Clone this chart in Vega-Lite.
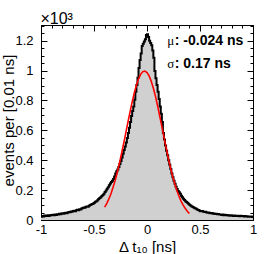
{
  "$schema": "https://vega.github.io/schema/vega-lite/v6.json",
  "width": 212,
  "height": 195,
  "autosize": {"type": "none"},
  "padding": {"left": 41, "top": 25, "right": 13, "bottom": 34},
  "background": "white",
  "config": {
    "view": {"stroke": "black", "strokeWidth": 1},
    "axis": {
      "domainColor": "black", "tickColor": "black", "labelColor": "black", "titleColor": "black",
      "labelFont": "Liberation Sans", "titleFont": "Liberation Sans", "labelFontSize": 13,
      "titleFontSize": 15, "titleFontWeight": "normal", "grid": false, "labelFlush": false,
      "labelOverlap": false, "tickWidth": 1, "domainWidth": 1
    }
  },
  "datasets": {
    "hist": [
      {"t":-1.00,"n":0.022},{"t":-0.99,"n":0.027},{"t":-0.98,"n":0.024},{"t":-0.97,"n":0.030},{"t":-0.96,"n":0.026},
      {"t":-0.95,"n":0.028},{"t":-0.94,"n":0.031},{"t":-0.93,"n":0.027},{"t":-0.92,"n":0.030},{"t":-0.91,"n":0.033},
      {"t":-0.90,"n":0.031},{"t":-0.89,"n":0.035},{"t":-0.88,"n":0.032},{"t":-0.87,"n":0.036},{"t":-0.86,"n":0.034},
      {"t":-0.85,"n":0.038},{"t":-0.84,"n":0.036},{"t":-0.83,"n":0.041},{"t":-0.82,"n":0.039},{"t":-0.81,"n":0.043},
      {"t":-0.80,"n":0.045},{"t":-0.79,"n":0.042},{"t":-0.78,"n":0.047},{"t":-0.77,"n":0.049},{"t":-0.76,"n":0.046},
      {"t":-0.75,"n":0.051},{"t":-0.74,"n":0.054},{"t":-0.73,"n":0.052},{"t":-0.72,"n":0.057},{"t":-0.71,"n":0.055},
      {"t":-0.70,"n":0.060},{"t":-0.69,"n":0.062},{"t":-0.68,"n":0.059},{"t":-0.67,"n":0.065},{"t":-0.66,"n":0.068},
      {"t":-0.65,"n":0.066},{"t":-0.64,"n":0.072},{"t":-0.63,"n":0.070},{"t":-0.62,"n":0.077},{"t":-0.61,"n":0.080},
      {"t":-0.60,"n":0.084},{"t":-0.59,"n":0.082},{"t":-0.58,"n":0.088},{"t":-0.57,"n":0.091},{"t":-0.56,"n":0.089},
      {"t":-0.55,"n":0.096},{"t":-0.54,"n":0.100},{"t":-0.53,"n":0.103},{"t":-0.52,"n":0.107},{"t":-0.51,"n":0.111},
      {"t":-0.50,"n":0.116},{"t":-0.49,"n":0.122},{"t":-0.48,"n":0.126},{"t":-0.47,"n":0.133},{"t":-0.46,"n":0.140},
      {"t":-0.45,"n":0.148},{"t":-0.44,"n":0.153},{"t":-0.43,"n":0.161},{"t":-0.42,"n":0.168},{"t":-0.41,"n":0.176},
      {"t":-0.40,"n":0.187},{"t":-0.39,"n":0.197},{"t":-0.38,"n":0.209},{"t":-0.37,"n":0.219},{"t":-0.36,"n":0.232},
      {"t":-0.35,"n":0.245},{"t":-0.34,"n":0.255},{"t":-0.33,"n":0.262},{"t":-0.32,"n":0.274},{"t":-0.31,"n":0.291},
      {"t":-0.30,"n":0.311},{"t":-0.29,"n":0.326},{"t":-0.28,"n":0.338},{"t":-0.27,"n":0.355},{"t":-0.26,"n":0.375},
      {"t":-0.25,"n":0.395},{"t":-0.24,"n":0.419},{"t":-0.23,"n":0.444},{"t":-0.22,"n":0.469},{"t":-0.21,"n":0.492},
      {"t":-0.20,"n":0.518},{"t":-0.19,"n":0.548},{"t":-0.18,"n":0.582},{"t":-0.17,"n":0.617},{"t":-0.16,"n":0.656},
      {"t":-0.15,"n":0.696},{"t":-0.14,"n":0.730},{"t":-0.13,"n":0.760},{"t":-0.12,"n":0.804},{"t":-0.11,"n":0.859},
      {"t":-0.10,"n":0.903},{"t":-0.09,"n":0.952},{"t":-0.08,"n":1.017},{"t":-0.07,"n":1.071},{"t":-0.06,"n":1.115},
      {"t":-0.05,"n":1.165},{"t":-0.04,"n":1.180},{"t":-0.03,"n":1.194},{"t":-0.02,"n":1.209},{"t":-0.01,"n":1.238},
      {"t":0.00,"n":1.243},{"t":0.01,"n":1.224},{"t":0.02,"n":1.199},{"t":0.03,"n":1.184},{"t":0.04,"n":1.170},
      {"t":0.05,"n":1.135},{"t":0.06,"n":1.086},{"t":0.07,"n":0.997},{"t":0.08,"n":0.948},{"t":0.09,"n":0.903},
      {"t":0.10,"n":0.859},{"t":0.11,"n":0.809},{"t":0.12,"n":0.760},{"t":0.13,"n":0.711},{"t":0.14,"n":0.656},
      {"t":0.15,"n":0.582},{"t":0.16,"n":0.538},{"t":0.17,"n":0.498},{"t":0.18,"n":0.464},{"t":0.19,"n":0.434},
      {"t":0.20,"n":0.400},{"t":0.21,"n":0.370},{"t":0.22,"n":0.341},{"t":0.23,"n":0.311},{"t":0.24,"n":0.286},
      {"t":0.25,"n":0.262},{"t":0.26,"n":0.242},{"t":0.27,"n":0.222},{"t":0.28,"n":0.207},{"t":0.29,"n":0.194},
      {"t":0.30,"n":0.186},{"t":0.31,"n":0.176},{"t":0.32,"n":0.163},{"t":0.33,"n":0.153},{"t":0.34,"n":0.143},
      {"t":0.35,"n":0.134},{"t":0.36,"n":0.126},{"t":0.37,"n":0.120},{"t":0.38,"n":0.113},{"t":0.39,"n":0.107},
      {"t":0.40,"n":0.101},{"t":0.41,"n":0.096},{"t":0.42,"n":0.091},{"t":0.43,"n":0.087},{"t":0.44,"n":0.082},
      {"t":0.45,"n":0.078},{"t":0.46,"n":0.075},{"t":0.47,"n":0.071},{"t":0.48,"n":0.067},{"t":0.49,"n":0.063},
      {"t":0.50,"n":0.059},{"t":0.51,"n":0.058},{"t":0.52,"n":0.061},{"t":0.53,"n":0.055},{"t":0.54,"n":0.053},
      {"t":0.55,"n":0.056},{"t":0.56,"n":0.050},{"t":0.57,"n":0.048},{"t":0.58,"n":0.051},{"t":0.59,"n":0.046},
      {"t":0.60,"n":0.045},{"t":0.61,"n":0.047},{"t":0.62,"n":0.042},{"t":0.63,"n":0.044},{"t":0.64,"n":0.040},
      {"t":0.65,"n":0.041},{"t":0.66,"n":0.038},{"t":0.67,"n":0.040},{"t":0.68,"n":0.036},{"t":0.69,"n":0.037},
      {"t":0.70,"n":0.034},{"t":0.71,"n":0.036},{"t":0.72,"n":0.032},{"t":0.73,"n":0.035},{"t":0.74,"n":0.031},
      {"t":0.75,"n":0.033},{"t":0.76,"n":0.030},{"t":0.77,"n":0.032},{"t":0.78,"n":0.029},{"t":0.79,"n":0.031},
      {"t":0.80,"n":0.030},{"t":0.81,"n":0.027},{"t":0.82,"n":0.030},{"t":0.83,"n":0.028},{"t":0.84,"n":0.026},
      {"t":0.85,"n":0.029},{"t":0.86,"n":0.027},{"t":0.87,"n":0.025},{"t":0.88,"n":0.028},{"t":0.89,"n":0.026},
      {"t":0.90,"n":0.027},{"t":0.91,"n":0.024},{"t":0.92,"n":0.026},{"t":0.93,"n":0.023},{"t":0.94,"n":0.025},
      {"t":0.95,"n":0.022},{"t":0.96,"n":0.024},{"t":0.97,"n":0.021},{"t":0.98,"n":0.023},{"t":0.99,"n":0.020},
      {"t":1.00,"n":0.020}
    ],
    "fit": [
      {"t":-0.40,"g":0.086},{"t":-0.38,"g":0.110},{"t":-0.36,"g":0.141},{"t":-0.34,"g":0.176},{"t":-0.32,"g":0.219},
      {"t":-0.30,"g":0.266},{"t":-0.28,"g":0.321},{"t":-0.26,"g":0.380},{"t":-0.24,"g":0.445},{"t":-0.22,"g":0.513},
      {"t":-0.20,"g":0.583},{"t":-0.18,"g":0.654},{"t":-0.16,"g":0.723},{"t":-0.14,"g":0.790},{"t":-0.12,"g":0.850},
      {"t":-0.10,"g":0.902},{"t":-0.08,"g":0.945},{"t":-0.06,"g":0.975},{"t":-0.04,"g":0.993},{"t":-0.02,"g":0.997},
      {"t":0.00,"g":0.987},{"t":0.02,"g":0.964},{"t":0.04,"g":0.929},{"t":0.06,"g":0.882},{"t":0.08,"g":0.827},
      {"t":0.10,"g":0.764},{"t":0.12,"g":0.696},{"t":0.14,"g":0.626},{"t":0.16,"g":0.555},{"t":0.18,"g":0.486},
      {"t":0.20,"g":0.418},{"t":0.22,"g":0.356},{"t":0.24,"g":0.298},{"t":0.26,"g":0.247},{"t":0.28,"g":0.201},
      {"t":0.30,"g":0.162},{"t":0.32,"g":0.128},{"t":0.34,"g":0.101},{"t":0.36,"g":0.078},{"t":0.38,"g":0.059},
      {"t":0.40,"g":0.044}
    ],
    "ann": [
      {"sym":"μ","txt":": -0.024 ns","sx":0.19,"tx":0.262,"y":1.171},
      {"sym":"σ","txt":":  0.17 ns","sx":0.19,"tx":0.262,"y":1.015}
    ],
    "exp": [
      {"lab":"×10³","x":-1.005,"y":1.312}
    ]
  },
  "layer": [
    {
      "data": {"name": "hist"},
      "mark": {"type": "area", "interpolate": "step-after", "color": "#d0d0d0"},
      "encoding": {
        "x": {"field": "t", "type": "quantitative", "scale": {"domain": [-1, 1], "nice": false, "zero": false},
          "axis": {"orient": "bottom", "values": [-1, -0.5, 0, 0.5, 1], "tickSize": -6, "labelPadding": 9,
            "labelExpr": "'' + datum.value", "title": "Δ t₁₀ [ns]", "titleBaseline": "alphabetic", "titleY": 31, "titleX": 106, "titleAlign": "center"}},
        "y": {"field": "n", "type": "quantitative", "scale": {"domain": [0, 1.305], "nice": false},
          "axis": {"orient": "left", "values": [0, 0.2, 0.4, 0.6, 0.8, 1, 1.2], "tickSize": -6, "labelPadding": 14,
            "labelExpr": "'' + datum.value", "title": "events per [0.01 ns]", "titleAngle": 270, "titleBaseline": "alphabetic",
            "titleX": -28, "titleY": 95, "titleAlign": "center"}}
      }
    },
    {
      "data": {"name": "hist"},
      "mark": {"type": "line", "interpolate": "step-after", "color": "black", "strokeWidth": 2},
      "encoding": {
        "x": {"field": "t", "type": "quantitative",
          "axis": {"orient": "bottom", "values": [-0.9,-0.8,-0.7,-0.6,-0.4,-0.3,-0.2,-0.1,0.1,0.2,0.3,0.4,0.6,0.7,0.8,0.9], "tickSize": -3, "labels": false, "title": null, "domain": false}},
        "y": {"field": "n", "type": "quantitative",
          "axis": {"orient": "left", "values": [0.05,0.1,0.15,0.25,0.3,0.35,0.45,0.5,0.55,0.65,0.7,0.75,0.85,0.9,0.95,1.05,1.1,1.15,1.25,1.3], "tickSize": -3, "labels": false, "title": null, "domain": false}}
      }
    },
    {
      "data": {"name": "fit"},
      "mark": {"type": "line", "color": "#ff0000", "strokeWidth": 1.6},
      "encoding": {
        "x": {"field": "t", "type": "quantitative",
          "axis": {"orient": "top", "values": [-1, -0.5, 0, 0.5, 1], "tickSize": -6, "labels": false, "title": null}},
        "y": {"field": "g", "type": "quantitative",
          "axis": {"orient": "right", "values": [0, 0.2, 0.4, 0.6, 0.8, 1, 1.2], "tickSize": -6, "labels": false, "title": null}}
      }
    },
    {
      "data": {"name": "ann"},
      "mark": {"type": "text", "align": "left", "baseline": "alphabetic", "font": "Liberation Sans", "fontWeight": "bold", "fontSize": 14, "color": "black"},
      "encoding": {
        "x": {"field": "tx", "type": "quantitative",
          "axis": {"orient": "top", "values": [-0.9,-0.8,-0.7,-0.6,-0.4,-0.3,-0.2,-0.1,0.1,0.2,0.3,0.4,0.6,0.7,0.8,0.9], "tickSize": -3, "labels": false, "title": null, "domain": false}},
        "y": {"field": "y", "type": "quantitative",
          "axis": {"orient": "right", "values": [0.05,0.1,0.15,0.25,0.3,0.35,0.45,0.5,0.55,0.65,0.7,0.75,0.85,0.9,0.95,1.05,1.1,1.15,1.25,1.3], "tickSize": -3, "labels": false, "title": null, "domain": false}},
        "text": {"field": "txt"}
      }
    },
    {
      "data": {"name": "ann"},
      "mark": {"type": "text", "align": "left", "baseline": "alphabetic", "font": "Liberation Serif", "fontSize": 13, "color": "black"},
      "encoding": {
        "x": {"field": "sx", "type": "quantitative", "axis": null},
        "y": {"field": "y", "type": "quantitative", "axis": null},
        "text": {"field": "sym"}
      }
    },
    {
      "data": {"name": "exp"},
      "mark": {"type": "text", "align": "left", "baseline": "alphabetic", "font": "Liberation Sans", "fontSize": 16, "color": "black", "clip": false},
      "encoding": {
        "x": {"field": "x", "type": "quantitative", "axis": null},
        "y": {"field": "y", "type": "quantitative", "axis": null},
        "text": {"field": "lab"}
      }
    }
  ],
  "resolve": {"axis": {"x": "independent", "y": "independent"}}
}
